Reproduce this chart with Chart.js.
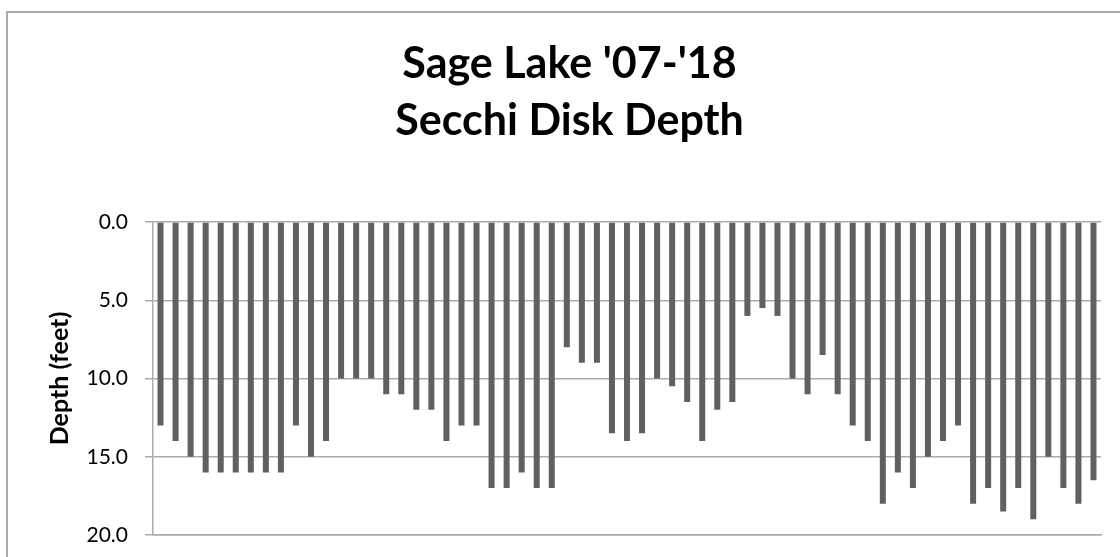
<!DOCTYPE html>
<html>
<head>
<meta charset="utf-8">
<script src="https://cdn.jsdelivr.net/npm/chart.js@4"></script>
<style>
    body { margin: 0; background: #fff; }
    #wrap { position: relative; width: 1120px; height: 557px; overflow: hidden; }
    #frame { position: absolute; left: 6px; top: 11px; width: 1200px; height: 700px;
             border-left: 2px solid #ababab; border-top: 2px solid #ababab; }
    canvas { position: absolute; left: 0; top: 0; }
</style>
</head>
<body>
<div id="wrap">
    <div id="frame"></div>
    <canvas id="secchiChart" width="1120" height="557"></canvas>
</div>
<script>
const titleLines = ["Sage Lake '07-'18", 'Secchi Disk Depth'];
const axisTitle = 'Depth (feet)';
const depthTicks = [0, 5, 10, 15, 20];

// secchi readings in feet, oldest first
const depthFeet = [
    13, 14, 15, 16, 16, 16, 16, 16, 16, 13, 15, 14,
    10, 10, 10, 11, 11, 12, 12,
    14, 13, 13,
    17, 17, 16, 17, 17,
    8, 9, 9,
    13.5, 14, 13.5,
    10, 10.5, 11.5,
    14, 12, 11.5,
    6, 5.5, 6,
    10, 11, 8.5, 11,
    13, 14, 18, 16, 17, 15, 14, 13,
    18, 17, 18.5, 17, 19, 15, 17, 18, 16.5
];
const sampleLabels = depthFeet.map((v, i) => 'Sample ' + (i + 1));

const gridColor = '#ababab';

const ctx = document.getElementById('secchiChart').getContext('2d');
new Chart(ctx, {
    type: 'bar',
    data: {
        labels: sampleLabels,
        datasets: [{
            label: 'Secchi depth',
            data: depthFeet,
            backgroundColor: '#606060',
            borderWidth: 0,
            barPercentage: 0.4,
            categoryPercentage: 1.0
        }]
    },
    options: {
        responsive: false,
        animation: false,
        layout: { padding: { left: 38, right: 19, top: 0, bottom: 22 } },
        plugins: {
            legend: { display: false },
            tooltip: { enabled: false },
            title: {
                display: true,
                text: titleLines,
                color: '#000',
                font: { family: 'Lato', size: 43, weight: 'bold', lineHeight: '57px' },
                padding: { top: 36, bottom: 72 }
            }
        },
        scales: {
            x: {
                afterFit: (scale) => { scale.height = 0; },
                grid: { display: false, drawTicks: false },
                border: { display: true, color: gridColor, width: 1.5 },
                ticks: { display: false }
            },
            y: {
                reverse: true,
                min: 0,
                max: 20,
                afterBuildTicks: (scale) => { scale.ticks = depthTicks.map(v => ({ value: v })); },
                afterFit: (scale) => {
                    scale.width = 115;
                    // label padding should not shrink the plot vertically
                    scale.paddingTop = 0;
                    scale.paddingBottom = 0;
                },
                grid: { color: gridColor, lineWidth: 1.5, tickLength: 8 },
                border: { display: true, color: gridColor, width: 1.5 },
                ticks: {
                    color: '#000',
                    padding: 17,
                    font: { family: 'Lato', size: 21 },
                    callback: (v) => Number(v).toFixed(1)
                },
                title: {
                    display: true,
                    text: axisTitle,
                    color: '#000',
                    font: { family: 'Lato', size: 25, weight: 'bold', lineHeight: 1.2 },
                    padding: { top: 7, bottom: 0 }
                }
            }
        }
    }
});
</script>
</body>
</html>
